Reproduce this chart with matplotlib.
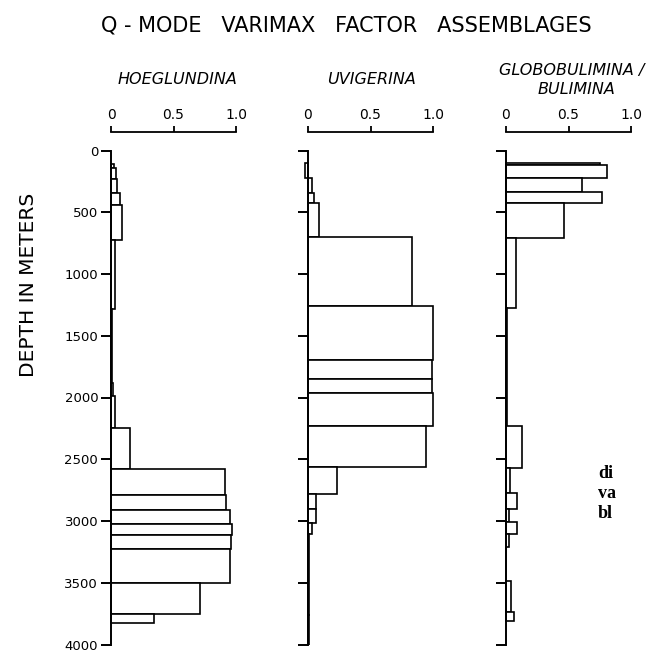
import matplotlib
matplotlib.use("Agg")
import matplotlib.pyplot as plt
import numpy as np

plt.rcParams['font.family'] = ['DejaVu Sans']

# ---- data (depth edges in metres, factor loadings per interval) ----
hoeg_edges = [110, 139, 233, 346, 442, 722, 1287, 1880, 1987, 2248, 2579, 2788,
              2909, 3025, 3111, 3224, 3504, 3754, 3824]
hoeg_vals = [0.02, 0.04, 0.05, 0.07, 0.09, 0.03, 0.005, 0.015, 0.03, 0.15, 0.91,
             0.92, 0.95, 0.97, 0.96, 0.95, 0.71, 0.34]

uvi_edges = [103, 224, 346, 426, 704, 1263, 1699, 1852, 1960, 2229, 2565, 2780,
             2902, 3015, 3103, 3763, 4000]
uvi_vals = [-0.025, 0.03, 0.05, 0.09, 0.83, 1.0, 0.99, 0.99, 1.0, 0.94, 0.23,
            0.06, 0.06, 0.03, 0.005, 0.01]

glob_edges = [98, 117, 219, 332, 426, 712, 1274, 2229, 2571, 2773, 2902, 3009,
              3103, 3211, 3485, 3735, 3811]
glob_vals = [0.75, 0.81, 0.61, 0.77, 0.46, 0.08, 0.005, 0.13, 0.03, 0.09, 0.02,
             0.09, 0.02, 0.003, 0.04, 0.06]

panel_titles = ["HOEGLUNDINA", "UVIGERINA", "GLOBOBULIMINA /", "BULIMINA"]
x_ticks = [0, 0.5, 1.0]
x_ticklabels = ["0", "0.5", "1.0"]
depth_ticks = list(range(0, 4001, 500))

W, H = 656, 652
fig = plt.figure(figsize=(W / 100, H / 100), dpi=100)

panels = [(hoeg_edges, hoeg_vals), (uvi_edges, uvi_vals), (glob_edges, glob_vals)]
x_zero_px = [111, 308, 506]
unit_px = 125.0
y_top_px, y_bot_px = 150.5, 644.5
xmin, xmax = -0.06, 1.06

for i, ((edges, vals), x0) in enumerate(zip(panels, x_zero_px)):
    left_px = x0 + xmin * unit_px
    width_px = (xmax - xmin) * unit_px
    ax = fig.add_axes([left_px / W, 1 - y_bot_px / H, width_px / W,
                       (y_bot_px - y_top_px) / H])
    ax.set_xlim(xmin, xmax)
    ax.set_ylim(4000, 0)
    edges = np.asarray(edges, float)
    ax.barh(edges[:-1], vals, height=np.diff(edges), left=0, align='edge',
            facecolor='white', edgecolor='black', linewidth=1.2, zorder=2)

    for s in ['right', 'bottom']:
        ax.spines[s].set_visible(False)
    ax.spines['left'].set_position(('data', 0))
    ax.spines['left'].set_linewidth(1.4)
    ax.spines['left'].set_zorder(3)
    ax.spines['top'].set_position(('outward', 13.3))
    ax.spines['top'].set_bounds(0, 1.0)
    ax.spines['top'].set_linewidth(1.3)

    ax.xaxis.set_ticks_position('top')
    ax.set_xticks(x_ticks)
    ax.set_xticklabels(x_ticklabels)
    ax.tick_params(axis='x', direction='out', length=4.5, width=1.3,
                   labelsize=10, pad=3)

    ax.set_yticks(depth_ticks)
    ax.tick_params(axis='y', direction='out', length=7.2, width=1.4,
                   labelsize=9.5, pad=2)
    if i > 0:
        ax.set_yticklabels([])
    ax.patch.set_visible(False)

# panel titles
ital = dict(ha='center', va='center', fontsize=11.5, style='italic')
fig.text(178 / W, 1 - 80 / H, panel_titles[0], **ital)
fig.text(372 / W, 1 - 80 / H, panel_titles[1], **ital)
fig.text(572 / W, 1 - 71 / H, panel_titles[2], **ital)
fig.text(576 / W, 1 - 89 / H, panel_titles[3], **ital)

# main title
fig.text(346 / W, 1 - 25 / H, "Q - MODE   VARIMAX   FACTOR   ASSEMBLAGES",
         ha='center', va='center', fontsize=15)

# y label
fig.text(28 / W, 1 - 285 / H, "DEPTH IN METERS", rotation=90, ha='center',
         va='center', fontsize=14.5)

# clipped text from adjacent column
for txt, yc in zip(["di", "va", "bl"], [473, 493, 513]):
    fig.text(598 / W, 1 - yc / H, txt, ha='left', va='center', fontsize=13,
             fontweight='bold', family=['Liberation Serif', 'DejaVu Serif'])

fig.savefig("out.png", dpi=100)
